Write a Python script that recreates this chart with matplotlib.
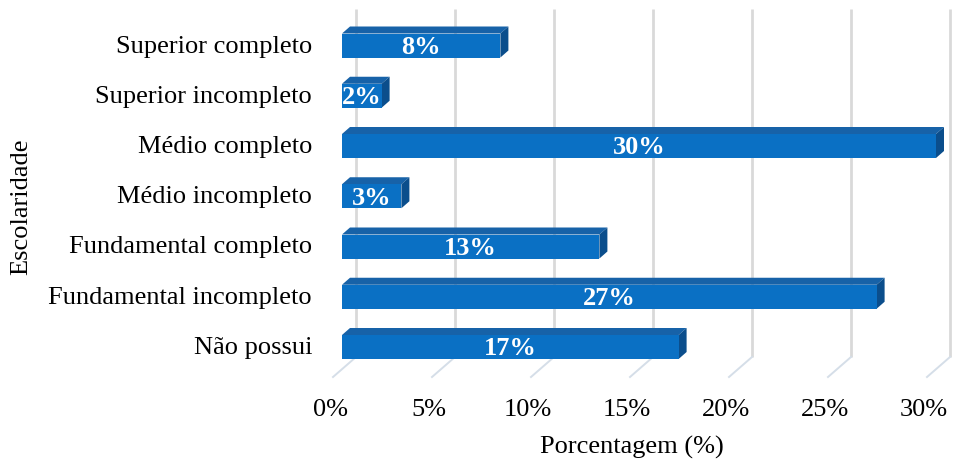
import matplotlib
matplotlib.use("Agg")
import matplotlib.pyplot as plt
from matplotlib.patches import Polygon

categories = ["Não possui", "Fundamental incompleto", "Fundamental completo",
              "Médio incompleto", "Médio completo", "Superior incompleto",
              "Superior completo"]
values = [17, 27, 13, 3, 30, 2, 8]
ticks = [0, 5, 10, 15, 20, 25, 30]
tick_labels = ["0%", "5%", "10%", "15%", "20%", "25%", "30%"]

W, H = 955, 464
fig = plt.figure(figsize=(W / 100, H / 100), dpi=100)
ax = fig.add_axes([0, 0, 1, 1])
ax.set_axis_off()

# pixel mapping: x=0% at 342 px, 19.8 px per %; category i center at 348-50.25*i px
pxx = 19.8
x0 = 342
pyy = 50.25
y0 = 348
ax.set_xlim(-x0 / pxx, (W - x0) / pxx)
ax.set_ylim((y0 - H) / pyy, y0 / pyy)

def dx(px):
    return px / pxx

def dy(px):
    return px / pyy

serif = ["Liberation Serif", "DejaVu Serif"]
fs = 19

# back-wall gridlines + floor lines
wall_top = dy(y0 - 10)
wall_bot = dy(y0 - 358)
floor_front = dy(y0 - 378)
for t in ticks:
    xb = t + dx(14)
    ax.plot([xb, xb], [wall_bot, wall_top], color="#D9D9D9", lw=2.0, zorder=1,
            solid_capstyle="butt")
    ax.plot([xb, t + dx(-9)], [wall_bot, floor_front], color="#D5DEE8", lw=1.4,
            zorder=1)

bh = 24 / pyy
ddx = dx(8)
ddy = dy(7)
front = "#0A70C4"
top_c = "#1762A8"
side_c = "#0B4E8C"
for i, (cat, v) in enumerate(zip(categories, values)):
    yb = i - bh / 2
    yt = i + bh / 2
    ax.add_patch(Polygon([(0, yt), (v, yt), (v + ddx, yt + ddy), (ddx, yt + ddy)],
                         closed=True, facecolor=top_c, edgecolor="none", zorder=2))
    ax.add_patch(Polygon([(v, yb), (v, yt), (v + ddx, yt + ddy), (v + ddx, yb + ddy)],
                         closed=True, facecolor=side_c, edgecolor="none", zorder=2))
    ax.barh(i, v, height=bh, left=0, color=front, edgecolor="none", zorder=3)
    ax.text(v / 2, i - dy(1), f"{v}%", ha="center", va="center", color="white",
            fontsize=fs, fontweight="bold", family=serif, zorder=4)
    ax.text(dx(312 - x0), i, cat, ha="right", va="center", color="black",
            fontsize=fs, family=serif)

for t, lab in zip(ticks, tick_labels):
    ax.text(t + dx(-12), dy(y0 - 410), lab, ha="center", va="center",
            fontsize=fs, family=serif)

ax.text(dx(632 - x0), dy(y0 - 447), "Porcentagem (%)", ha="center", va="center",
        fontsize=fs, family=serif)
ax.text(dx(21 - x0), dy(y0 - 207), "Escolaridade", ha="center", va="center",
        rotation=90, fontsize=fs, family=serif)

fig.savefig("out.png", dpi=100)
